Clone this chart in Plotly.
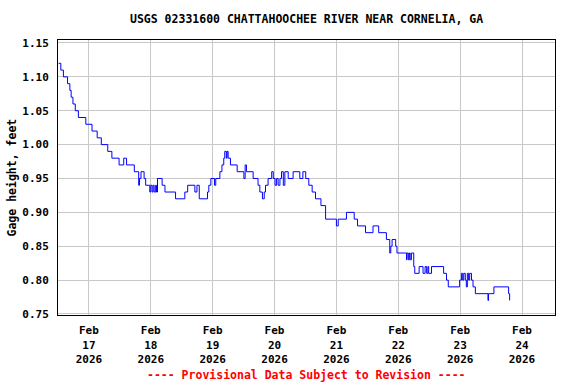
import pandas as pd
import plotly.graph_objects as go

# Hours since 2026-02-16 00:00 and gage height (feet) at each change
hours = [12.25, 13.1, 14.1, 15.7, 16.6, 17.1, 17.8, 18.7, 19.9, 22.8, 25.2, 27.2, 28.8,
         31.3, 32.9, 35.7, 37.5, 38.6, 41.6, 43.3, 43.6, 44.2, 45.4, 46.0, 47.6, 48.0,
         48.5, 48.9, 49.3, 49.9, 50.2, 50.6, 52.4, 53.5, 57.6, 61.2, 62.3, 65.1, 65.9,
         66.8, 70.0, 70.5, 71.3, 72.7, 73.2, 74.8, 75.6, 76.3, 76.7, 77.3, 77.6, 78.0,
         78.9, 81.5, 84.1, 84.6, 85.1, 87.7, 89.6, 90.3, 91.3, 92.0, 92.5, 93.5, 94.9,
         95.5, 96.2, 96.8, 97.4, 98.1, 98.7, 99.4, 100.0, 101.3, 103.2, 105.8, 107.0,
         108.1, 109.3, 110.6, 111.9, 114.0, 115.8, 120.0, 120.7, 123.9, 126.9, 128.2,
         131.3, 134.2, 136.4, 139.4, 140.7, 141.1, 141.6, 143.0, 143.5, 147.2, 147.4,
         147.9, 148.3, 148.6, 149.1, 150.0, 150.4, 152.1, 153.6, 154.4, 155.0, 155.5,
         155.8, 156.9, 161.6, 162.7, 163.4, 167.8, 168.5, 169.0, 169.4, 170.0, 170.4,
         170.8, 171.3, 171.7, 172.4, 173.0, 173.9, 178.8, 179.0, 181.1, 186.8, 187.2]
gage = [1.12, 1.11, 1.10, 1.09, 1.08, 1.07, 1.06, 1.05, 1.04, 1.03, 1.02, 1.01, 1.00,
        0.99, 0.98, 0.97, 0.98, 0.97, 0.96, 0.94, 0.95, 0.96, 0.95, 0.94, 0.93, 0.94,
        0.93, 0.94, 0.93, 0.94, 0.93, 0.95, 0.94, 0.93, 0.92, 0.93, 0.94, 0.93, 0.94,
        0.92, 0.93, 0.94, 0.95, 0.94, 0.95, 0.96, 0.97, 0.98, 0.99, 0.98, 0.99, 0.98,
        0.97, 0.96, 0.95, 0.97, 0.96, 0.95, 0.94, 0.93, 0.92, 0.93, 0.94, 0.95, 0.96,
        0.95, 0.94, 0.95, 0.94, 0.95, 0.96, 0.94, 0.96, 0.95, 0.96, 0.95, 0.96,
        0.95, 0.94, 0.93, 0.92, 0.91, 0.89, 0.88, 0.89, 0.90, 0.89, 0.88,
        0.87, 0.88, 0.87, 0.86, 0.84, 0.85, 0.86, 0.85, 0.84, 0.83, 0.84,
        0.83, 0.84, 0.83, 0.84, 0.82, 0.81, 0.82, 0.81, 0.82, 0.81, 0.82,
        0.81, 0.82, 0.81, 0.80, 0.79, 0.80, 0.81, 0.80, 0.81, 0.80, 0.79,
        0.81, 0.80, 0.81, 0.80, 0.79, 0.78, 0.77, 0.78, 0.79, 0.78, 0.77]

tick_days = ["2026-02-17", "2026-02-18", "2026-02-19", "2026-02-20",
             "2026-02-21", "2026-02-22", "2026-02-23", "2026-02-24"]
tick_text = ["Feb<br>17<br>2026", "Feb<br>18<br>2026", "Feb<br>19<br>2026", "Feb<br>20<br>2026",
             "Feb<br>21<br>2026", "Feb<br>22<br>2026", "Feb<br>23<br>2026", "Feb<br>24<br>2026"]
y_ticks = [0.75, 0.80, 0.85, 0.90, 0.95, 1.00, 1.05, 1.10, 1.15]

base = pd.Timestamp("2026-02-16 00:00")
times = [base + pd.Timedelta(hours=h) for h in hours]

FONT = "DejaVu Sans Mono"

fig = go.Figure()
fig.add_trace(go.Scatter(x=times, y=gage, mode="lines", line_shape="hv",
                         line=dict(color="#0000FF", width=1), hoverinfo="skip"))

fig.update_layout(
    width=576, height=384,
    margin=dict(l=58, r=21, t=40, b=69, autoexpand=False),
    paper_bgcolor="white", plot_bgcolor="white",
    showlegend=False,
    font=dict(family=FONT, size=11, color="black", weight="bold"),
)
fig.update_xaxes(
    range=[base + pd.Timedelta(hours=12), base + pd.Timedelta(hours=204.8)],
    tickvals=[pd.Timestamp(d) for d in tick_days], ticktext=tick_text,
    tickfont=dict(family=FONT, size=11, color="black", weight="bold"),
    showgrid=True, gridcolor="#c8c8c8", gridwidth=1,
    showline=True, linecolor="black", linewidth=1, mirror=True,
    ticks="", zeroline=False, automargin=False, ticklabelstandoff=5,
)
fig.update_yaxes(
    range=[0.7485, 1.1544],
    tickvals=y_ticks, ticktext=[f"{v:.2f}" for v in y_ticks],
    tickfont=dict(family=FONT, size=11, color="black", weight="bold"),
    showgrid=True, gridcolor="#c8c8c8", gridwidth=1,
    showline=True, linecolor="black", linewidth=1, mirror=True,
    ticks="", zeroline=False, ticklabelstandoff=6, automargin=False,
)
fig.add_annotation(text="USGS 02331600 CHATTAHOOCHEE RIVER NEAR CORNELIA, GA",
                   xref="paper", yref="paper", x=0.5, y=1.076, xanchor="center", yanchor="middle",
                   showarrow=False, font=dict(family=FONT, size=11.5, color="black", weight="bold"))
fig.add_annotation(text="Gage height, feet", textangle=-90,
                   xref="paper", yref="paper", x=-0.0926, y=0.5, xanchor="center", yanchor="middle",
                   showarrow=False, font=dict(family=FONT, size=11.5, color="black", weight="bold"))
fig.add_annotation(text="---- Provisional Data Subject to Revision ----",
                   xref="paper", yref="paper", x=0.5, y=-0.218, xanchor="center", yanchor="middle",
                   showarrow=False, font=dict(family=FONT, size=11.5, color="#FF0000", weight="bold"))

fig.write_html("out.html", config={"displayModeBar": False, "staticPlot": True},
               post_script="document.body.style.margin='0';")
